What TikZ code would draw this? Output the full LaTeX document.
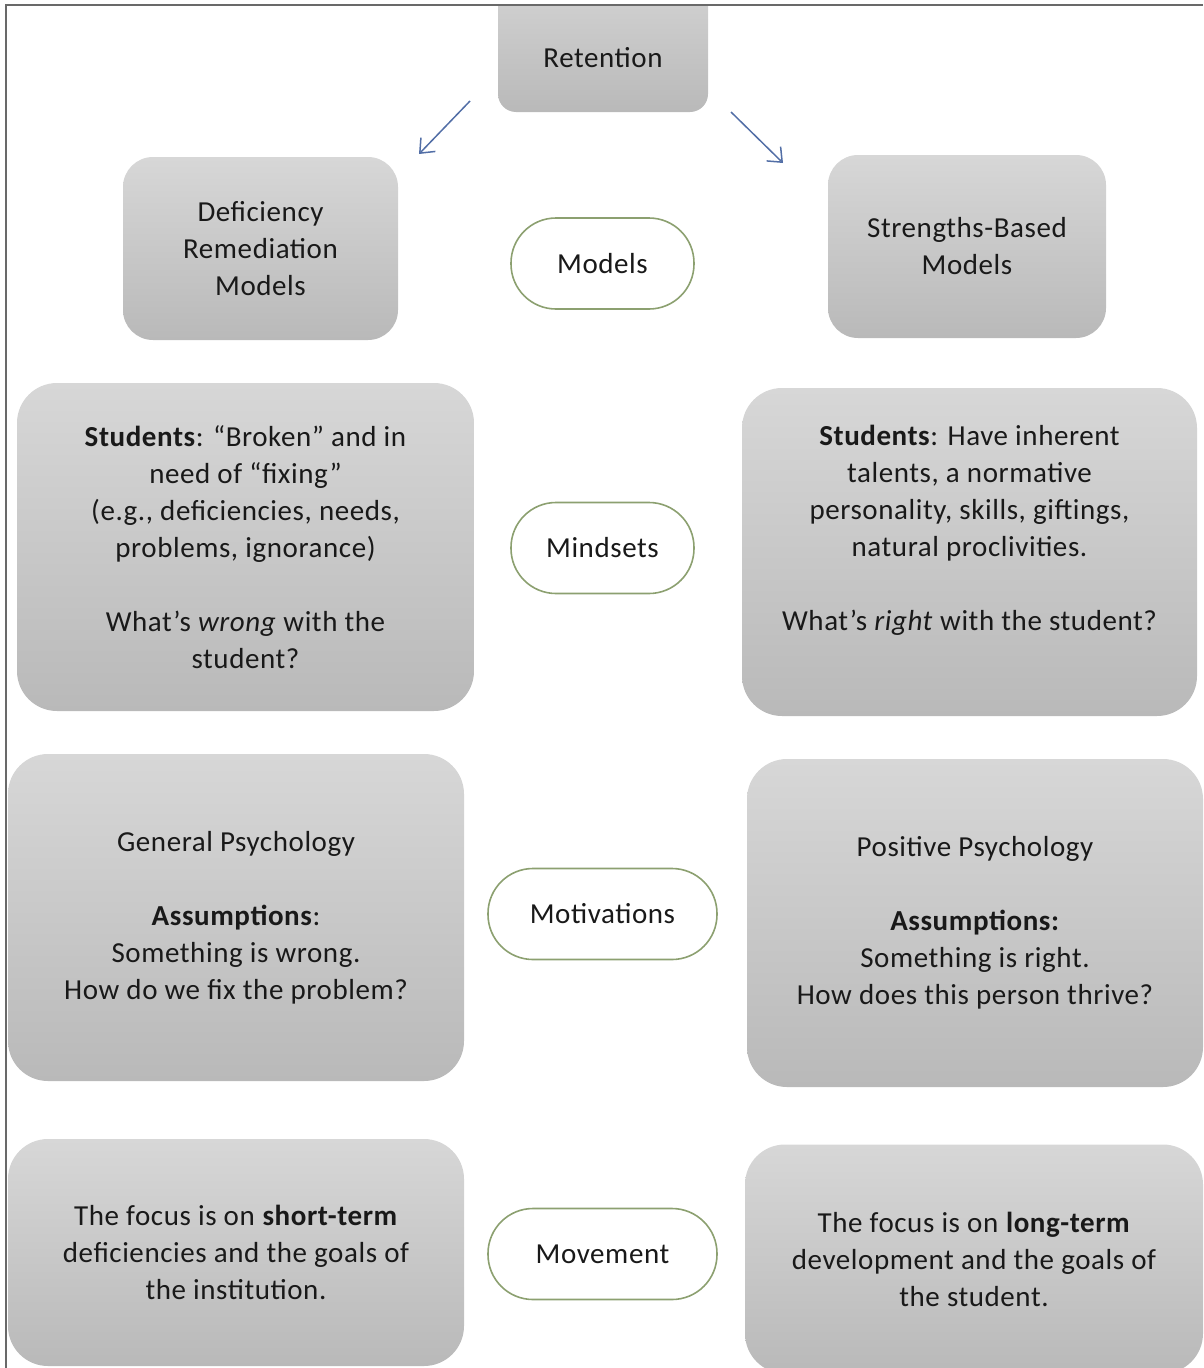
\documentclass[tikz,border=0pt]{standalone}
\usepackage{fontspec}
\setmainfont{Carlito}[LetterSpace=2]
\usetikzlibrary{arrows.meta}

\definecolor{boxtop}{RGB}{215,215,215}
\definecolor{boxbot}{RGB}{185,185,185}
\definecolor{pillline}{RGB}{140,160,112}
\definecolor{arrowblue}{RGB}{82,110,166}
\definecolor{framegray}{RGB}{105,105,105}
\definecolor{textgray}{RGB}{25,25,25}

\tikzset{
  box/.style={top color=boxtop, bottom color=boxbot, rounded corners=40pt, inner sep=0pt, align=center},
  smallbox/.style={box, rounded corners=30pt},
  pill/.style={draw=pillline, line width=1.6pt, fill=white, rounded corners=45pt, minimum height=91pt, align=center},
  link/.style={draw=arrowblue, line width=1.5pt, -{Straight Barb[length=12pt,width=20pt]}}
}

\begin{document}
\begin{tikzpicture}[x=1pt, y=-1pt, font=\fontsize{29pt}{37pt}\selectfont, text=textgray]
		\useasboundingbox (0, 0) rectangle (1203, 1368);
		\clip (0, 0) rectangle (1203, 1368);
		% top box, cut by the frame
		\begin{scope}
		\clip (0, 5) rectangle (1203, 1368);
		\shade[box, rounded corners=18pt] (498, -40) rectangle (708, 112);
		\end{scope}
		\node (ret) at (603, 58) {Retention};
		\coordinate (retL) at (470, 101);
		\coordinate (retR) at (731, 112);
		\coordinate (toDefic) at (419, 154);
		\coordinate (toStrength) at (783, 163);
		\draw[link] (retL) -- (toDefic);
		\draw[link] (retR) -- (toStrength);
		% models
		\node[smallbox, minimum width=275pt, minimum height=183pt] (defic) at (260.5, 248.5) {Deficiency\\Remediation\\Models};
		\node[smallbox, minimum width=278pt, minimum height=183pt] (strength) at (967, 246.5) {Strengths-Based\\Models};
		\node[pill, minimum width=183pt] (models) at (602.5, 263.5) {Models};
		% mindsets
		\node[box, minimum width=457pt, minimum height=328pt] (studL) at (245.5, 547) {\textbf{Students}: “Broken” and in\\need of “fixing”\\(e.g., deficiencies, needs,\\problems, ignorance)\\[37pt]What’s \textit{wrong} with the\\student?};
		\node[box, minimum width=455pt, minimum height=328pt] (studR) at (969.5, 552) {\textbf{Students}: Have inherent\\talents, a normative\\personality, skills, giftings,\\natural proclivities.\\[37pt]What’s \textit{right} with the student?\\\strut};
		\node[pill, minimum width=183pt] (mindsets) at (602.5, 548) {Mindsets};
		% motivations
		\node[box, minimum width=456pt, minimum height=327pt] (genpsy) at (236, 917.5) {General Psychology\\[37pt]\textbf{Assumptions}:\\Something is wrong.\\How do we fix the problem?};
		\node[box, minimum width=456pt, minimum height=328pt] (pospsy) at (975, 923) {Positive Psychology\\[37pt]\textbf{Assumptions:}\\Something is right.\\How does this person thrive?};
		\node[pill, minimum width=229pt] (motiv) at (602.5, 914) {Motivations};
		% movement
		\node[box, minimum width=456pt, minimum height=227pt] (shortt) at (236, 1252.5) {The focus is on \textbf{short-term}\\deficiencies and the goals of\\the institution.};
		\node[box, minimum width=458pt, minimum height=229pt] (longt) at (974, 1259) {The focus is on \textbf{long-term}\\development and the goals of\\the student.};
		\node[pill, minimum width=229pt] (movement) at (602.5, 1254) {Movement};
		% frame
		\draw[framegray, line width=2pt] (6, 1368) -- (6, 5) -- (1203, 5);
\end{tikzpicture}
\end{document}
